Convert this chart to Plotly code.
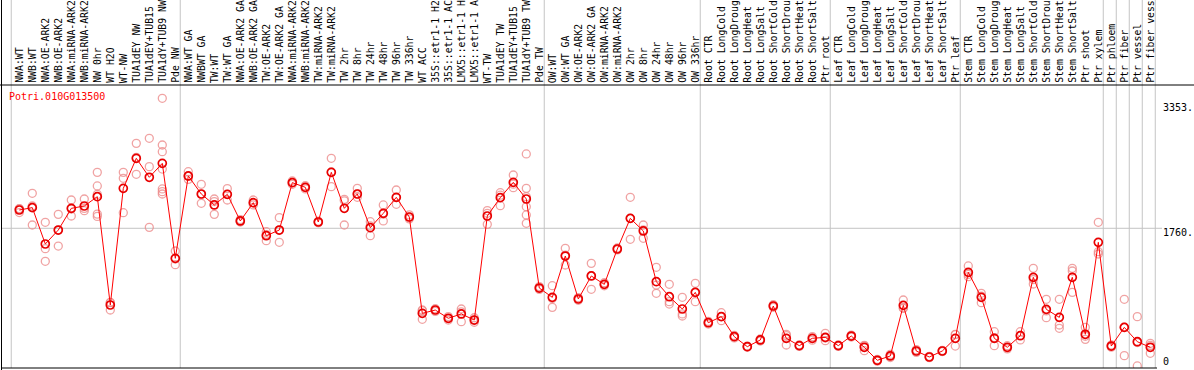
import plotly.graph_objects as go

categories = [
    "NWA:WT", "NWB:WT", "NWA:OE-ARK2", "NWB:OE-ARK2", "NWA:miRNA-ARK2", "NWB:miRNA-ARK2",
    "NW 0hr", "WT H2O", "WT-NW", "TUA1dEY NW", "TUA1dEY+TUB15", "TUA1dY+TUB9 NW", "Pde NW",
    "NWA:WT GA", "NWBWT GA", "TW:WT", "TW:WT GA", "NWA:OE-ARK2 GA", "NWB:OE-ARK2 GA",
    "TW:OE-ARK2", "TW:OE-ARK2 GA", "NWA:miRNA-ARK2", "NWB:miRNA-ARK2", "TW:miRNA-ARK2",
    "TW:miRNA-ARK2", "TW 2hr", "TW 8hr", "TW 24hr", "TW 48hr", "TW 96hr", "TW 336hr",
    "WT ACC", "35S::etr1-1 H2", "35S::etr1-1 AC", "LMX5::etr1-1 H", "LMX5::etr1-1 A",
    "WT-TW", "TUA1dEY TW", "TUA1dEY+TUB15", "TUA1dY+TUB9 TW", "Pde TW",
    "OW:WT", "OW:WT GA", "OW:OE-ARK2", "OW:OE-ARK2 GA", "OW:miRNA-ARK2", "OW:miRNA-ARK2",
    "OW 2hr", "OW 8hr", "OW 24hr", "OW 48hr", "OW 96hr", "OW 336hr",
    "Root CTR", "Root LongCold", "Root LongDroug", "Root LongHeat", "Root LongSalt",
    "Root ShortCold", "Root ShortDrou", "Root ShortHeat", "Root ShortSalt", "Ptr root",
    "Leaf CTR", "Leaf LongCold", "Leaf LongDroug", "Leaf LongHeat", "Leaf LongSalt",
    "Leaf ShortCold", "Leaf ShortDrou", "Leaf ShortHeat", "Leaf ShortSalt", "Ptr leaf",
    "Stem CTR", "Stem LongCold", "Stem LongDroug", "Stem LongHeat", "Stem LongSalt",
    "Stem ShortCold", "Stem ShortDrou", "Stem ShortHeat", "Stem ShortSalt", "Ptr shoot",
    "Ptr xylem", "Ptr phloem", "Ptr fiber", "Ptr vessel", "Ptr fiber vess",
]

means = [
    1992, 2022, 1561, 1738, 2013, 2043, 2161, 787, 2267, 2648, 2407, 2584, 1379,
    2424, 2195, 2056, 2191, 1853, 2085, 1666, 1738, 2339, 2280, 1840, 2470,
    2013, 2195, 1768, 1950, 2153, 1903, 681, 723, 618, 673, 596,
    1916, 2149, 2343, 2132, 1002,
    884, 1408, 863, 1155, 1049, 1497, 1886, 1726, 1083, 892, 736, 947,
    562, 639, 385, 258, 343, 774, 364, 271, 364, 376,
    271, 393, 250, 85, 140, 782, 203, 127, 203, 364,
    1201, 884, 364, 250, 397, 1138, 732, 630, 1138, 415,
    1582, 266, 503, 321, 250,
]

replicates = [
    [2010, 1960, 2005], [2204, 2043, 1802], [1836, 1501, 1341], [1937, 1738, 1535],
    [2119, 2005, 1916], [2132, 2013, 1984], [2470, 2297, 2190, 1940, 1910], [816, 723, 820],
    [2470, 2394, 1958], [2838, 2445, 2660], [2902, 2542, 1772],
    [3409, 2817, 2732, 2512, 2259, 2225, 2195], [1472, 1370, 1298],
    [2478, 2420, 2381], [2318, 2190, 2077], [2132, 2099, 1937], [2263, 2191, 2119],
    [1870, 1840, 1850], [2119, 2080, 2056], [1717, 1680, 1603], [1895, 1738, 1582],
    [2360, 2339, 2318], [2300, 2280, 2260], [1850, 1840, 1830], [2648, 2475, 2288],
    [2128, 2109, 1802], [2267, 2195, 2153], [1844, 1790, 1666], [2056, 1940, 1853],
    [2246, 2150, 2064], [1930, 1900, 1880], [723, 715, 605], [740, 723, 706],
    [640, 618, 596], [736, 700, 575], [625, 596, 568], [1984, 1950, 1810],
    [2212, 2180, 2047], [2436, 2320, 2275], [2703, 2267, 2161, 2034, 1929, 1823],
    [1020, 1002, 985], [1032, 870, 757], [1506, 1420, 1294], [880, 863, 846],
    [1315, 1160, 986], [1070, 1049, 1030], [1510, 1497, 1485], [2153, 1886, 1620],
    [1802, 1740, 1633], [1265, 1040, 935], [1049, 829, 799], [884, 673, 647],
    [1062, 950, 829], [580, 562, 545], [689, 640, 588], [400, 385, 370],
    [265, 258, 250], [355, 343, 330], [790, 774, 758], [415, 398, 279],
    [280, 271, 262], [385, 364, 340], [427, 368, 334], [280, 271, 262],
    [405, 393, 380], [275, 268, 207], [95, 85, 75], [160, 140, 120],
    [850, 750, 745], [220, 203, 186], [135, 127, 119], [210, 203, 196],
    [415, 410, 266], [1282, 1175, 1146], [935, 900, 816], [448, 373, 271],
    [270, 250, 230], [448, 400, 343], [1252, 1110, 1053], [859, 712, 626],
    [859, 533, 491], [1252, 1218, 947], [503, 390, 351], [1836, 1463, 1434],
    [280, 266, 252], [859, 505, 144], [639, 310, 13], [300, 275, 174],
]

# group separators: after these category positions
separators = [0, 13, 41, 53, 63, 73, 84, 85, 86, 87, 88]
gene_id = "Potri.010G013500"
y_tick_texts = ["3353.", "1760.", "0"]
grid_value = 1760

W, H = 1194, 370
L, R, T, B = 1, 38, 85, 2
PW, PH = W - L - R, H - T - B
FONT = "DejaVu Sans Mono"


def px_x(px):
    return (px - L) / PW


def px_y(py):
    return (H - B - py) / PH


xs = list(range(1, len(categories) + 1))

rx, ry = [], []
for i, reps in zip(xs, replicates):
    for v in reps:
        rx.append(i)
        ry.append(v)

fig = go.Figure()
fig.add_trace(go.Scatter(
    x=rx, y=ry, mode="markers",
    marker=dict(symbol="circle-open", size=8, color="rgba(236,140,140,0.8)",
                line=dict(width=1.3)),
    hoverinfo="skip", showlegend=False,
))
fig.add_trace(go.Scatter(
    x=xs, y=means, mode="lines+markers",
    line=dict(color="#FF0000", width=1),
    marker=dict(symbol="circle-open", size=8, color="#E80000", line=dict(width=1.7)),
    showlegend=False,
))

shapes = []
top_paper = px_y(0)
for s in separators:
    xv = s + 0.38
    shapes.append(dict(type="line", xref="x", yref="paper", x0=xv, x1=xv, y0=0, y1=top_paper,
                       line=dict(color="#C4C4C4", width=1), layer="below"))
shapes.append(dict(type="line", xref="paper", yref="y", x0=0, x1=px_x(1162),
                   y0=grid_value, y1=grid_value, line=dict(color="#C4C4C4", width=1), layer="below"))
# black frame lines
shapes.append(dict(type="line", xref="paper", yref="paper", x0=px_x(0), x1=px_x(W),
                   y0=1, y1=1, line=dict(color="black", width=1)))
shapes.append(dict(type="line", xref="paper", yref="paper", x0=px_x(1.5), x1=px_x(1.5),
                   y0=px_y(H), y1=top_paper, line=dict(color="black", width=1)))
shapes.append(dict(type="line", xref="paper", yref="paper", x0=0, x1=px_x(1157),
                   y0=px_y(368), y1=px_y(368), line=dict(color="black", width=1)))

annotations = []
for i, c in zip(xs, categories):
    annotations.append(dict(
        x=i, y=px_y(84), xref="x", yref="paper", text=c, textangle=-90,
        xanchor="center", yanchor="bottom", showarrow=False, borderpad=0,
        font=dict(family=FONT, size=9.8, color="black"),
    ))
annotations.append(dict(
    x=px_x(8), y=px_y(97), xref="paper", yref="paper", text=gene_id,
    xanchor="left", yanchor="middle", showarrow=False, borderpad=0,
    font=dict(family=FONT, size=10, color="#FF0000"),
))
tick_pos = [107.3, 232.7, 361.7]
for t, py in zip(y_tick_texts, tick_pos):
    annotations.append(dict(
        x=px_x(1162), y=px_y(py), xref="paper", yref="paper", text=t,
        xanchor="left", yanchor="middle", showarrow=False, borderpad=0,
        font=dict(family=FONT, size=10, color="black"),
    ))

fig.update_layout(
    width=W, height=H,
    margin=dict(l=L, r=R, t=T, b=B, pad=0),
    paper_bgcolor="white", plot_bgcolor="white",
    xaxis=dict(range=[-0.4077, 88.438], showgrid=False, zeroline=False,
               showticklabels=False, ticks="", showline=False),
    yaxis=dict(range=[-12.7, 3578.2], showgrid=False, zeroline=False,
               showticklabels=False, ticks="", showline=False),
    shapes=shapes, annotations=annotations, showlegend=False,
)

fig.write_html("out.html", config={"displayModeBar": False},
               post_script="document.body.style.margin='0';")
